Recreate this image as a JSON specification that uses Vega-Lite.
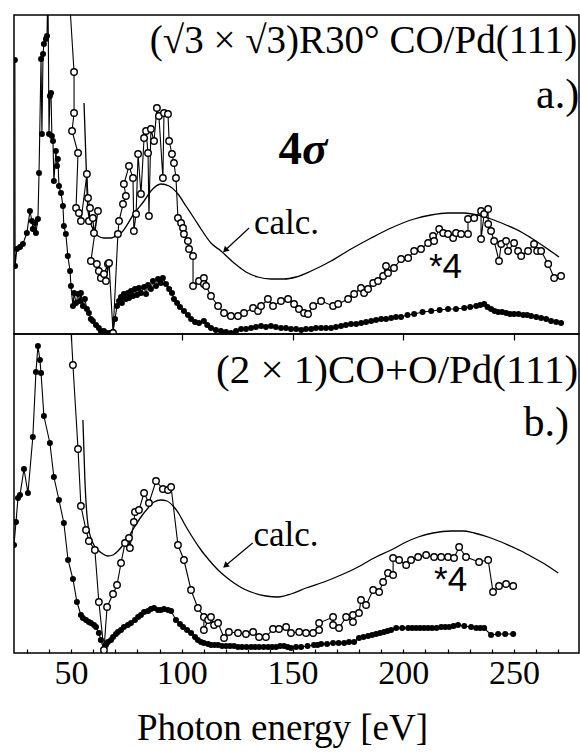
{
"$schema":"https://vega.github.io/schema/vega-lite/v6.json",
"padding":{"left":13,"top":14,"right":2,"bottom":5},
"background":"white",
"config":{"view":{"stroke":"black","strokeWidth":1.5},"font":"Liberation Serif"},
"datasets":{
"aCalc":[{"E":55.9,"I":231},{"E":56.8,"I":173},{"E":57.7,"I":123},{"E":59.9,"I":105},{"E":62.2,"I":98},{"E":64.9,"I":96},{"E":68.1,"I":96},{"E":70.3,"I":98},{"E":72.6,"I":101},{"E":78.4,"I":120},{"E":83.0,"I":133},{"E":86.1,"I":143},{"E":90.6,"I":150},{"E":94.3,"I":148},{"E":98.3,"I":140},{"E":101.9,"I":128},{"E":105.5,"I":116},{"E":108.7,"I":105},{"E":113.2,"I":91},{"E":117.7,"I":83},{"E":123.6,"I":71},{"E":129.0,"I":62},{"E":134.4,"I":57},{"E":140.3,"I":55},{"E":146.2,"I":55},{"E":151.6,"I":57},{"E":158.4,"I":63},{"E":167.4,"I":73},{"E":176.4,"I":85},{"E":185.5,"I":96},{"E":194.5,"I":106},{"E":204.9,"I":115},{"E":212.5,"I":119},{"E":220.2,"I":121},{"E":227.4,"I":121},{"E":235.1,"I":118},{"E":239.6,"I":115},{"E":246.4,"I":109},{"E":253.2,"I":102},{"E":257.7,"I":96},{"E":264.5,"I":86},{"E":270.3,"I":77}],
"aOpen":[{"E":48.65,"I":360},{"E":51.4,"I":262},{"E":51.4,"I":221},{"E":50.5,"I":203},{"E":53.2,"I":181},{"E":52.3,"I":126},{"E":53.6,"I":121},{"E":54.5,"I":113},{"E":57.2,"I":160},{"E":57.7,"I":136},{"E":58.6,"I":126},{"E":58.1,"I":113},{"E":59.9,"I":116},{"E":60.4,"I":101},{"E":62.2,"I":123},{"E":59.0,"I":73},{"E":61.7,"I":70},{"E":62.6,"I":63},{"E":63.5,"I":56},{"E":64.9,"I":60},{"E":66.7,"I":70},{"E":65.8,"I":53},{"E":67.2,"I":71},{"E":69.0,"I":1},{"E":71.2,"I":100},{"E":71.7,"I":113},{"E":73.5,"I":130},{"E":74.8,"I":138},{"E":73.9,"I":150},{"E":76.2,"I":168},{"E":78.0,"I":156},{"E":78.4,"I":103},{"E":79.4,"I":120},{"E":80.3,"I":180},{"E":81.6,"I":140},{"E":83.0,"I":196},{"E":83.9,"I":203},{"E":84.8,"I":181},{"E":85.2,"I":118},{"E":86.1,"I":205},{"E":87.5,"I":193},{"E":88.8,"I":226},{"E":89.7,"I":218},{"E":91.5,"I":156},{"E":92.0,"I":221},{"E":93.8,"I":220},{"E":94.3,"I":193},{"E":95.6,"I":180},{"E":96.5,"I":171},{"E":97.4,"I":156},{"E":98.3,"I":116},{"E":99.7,"I":111},{"E":100.6,"I":106},{"E":101.0,"I":100},{"E":102.8,"I":93},{"E":103.3,"I":85},{"E":105.1,"I":78},{"E":105.1,"I":48},{"E":107.8,"I":53},{"E":110.0,"I":56},{"E":110.0,"I":50},{"E":111.0,"I":48},{"E":113.2,"I":38},{"E":116.4,"I":28},{"E":119.1,"I":21},{"E":122.2,"I":18},{"E":125.4,"I":18},{"E":128.1,"I":21},{"E":132.2,"I":26},{"E":134.4,"I":23},{"E":135.8,"I":28},{"E":138.9,"I":35},{"E":141.2,"I":28},{"E":144.8,"I":33},{"E":148.0,"I":35},{"E":150.7,"I":30},{"E":152.9,"I":25},{"E":155.2,"I":21},{"E":157.0,"I":20},{"E":159.3,"I":28},{"E":162.9,"I":33},{"E":168.3,"I":28},{"E":170.6,"I":30},{"E":175.1,"I":35},{"E":177.8,"I":40},{"E":180.9,"I":46},{"E":182.3,"I":41},{"E":184.1,"I":45},{"E":186.4,"I":51},{"E":188.6,"I":53},{"E":190.9,"I":58},{"E":192.2,"I":68},{"E":193.1,"I":61},{"E":195.8,"I":66},{"E":199.0,"I":75},{"E":202.2,"I":76},{"E":204.9,"I":83},{"E":208.0,"I":85},{"E":211.2,"I":91},{"E":213.4,"I":98},{"E":213.9,"I":93},{"E":216.2,"I":105},{"E":218.0,"I":101},{"E":220.2,"I":100},{"E":222.5,"I":96},{"E":223.8,"I":101},{"E":226.1,"I":100},{"E":229.2,"I":100},{"E":229.2,"I":115},{"E":232.0,"I":116},{"E":235.1,"I":123},{"E":235.1,"I":95},{"E":236.5,"I":120},{"E":238.3,"I":125},{"E":238.3,"I":110},{"E":239.6,"I":103},{"E":241.0,"I":93},{"E":243.2,"I":73},{"E":244.2,"I":90},{"E":246.4,"I":93},{"E":247.3,"I":83},{"E":250.0,"I":91},{"E":251.8,"I":83},{"E":253.2,"I":78},{"E":256.3,"I":83},{"E":259.0,"I":90},{"E":260.4,"I":83},{"E":262.2,"I":83},{"E":265.4,"I":70},{"E":268.1,"I":56},{"E":271.2,"I":58}],
"aFilled":[{"E":24.7,"I":274},{"E":24.8,"I":68},{"E":25.6,"I":85},{"E":27.0,"I":87},{"E":28.3,"I":90},{"E":30.1,"I":101},{"E":31.5,"I":123},{"E":32.4,"I":113},{"E":32.8,"I":105},{"E":33.8,"I":111},{"E":34.2,"I":101},{"E":35.1,"I":115},{"E":35.6,"I":161},{"E":36.5,"I":275},{"E":36.9,"I":200},{"E":37.4,"I":280},{"E":37.8,"I":290},{"E":38.7,"I":295},{"E":39.2,"I":298},{"E":39.6,"I":353},{"E":40.1,"I":200},{"E":40.5,"I":238},{"E":41.0,"I":241},{"E":41.4,"I":198},{"E":41.9,"I":193},{"E":42.3,"I":153},{"E":43.2,"I":183},{"E":43.7,"I":168},{"E":44.1,"I":175},{"E":44.6,"I":148},{"E":45.5,"I":141},{"E":46.4,"I":128},{"E":46.8,"I":108},{"E":47.7,"I":100},{"E":48.6,"I":78},{"E":49.6,"I":63},{"E":50.0,"I":48},{"E":50.9,"I":28},{"E":51.4,"I":41},{"E":52.3,"I":31},{"E":53.2,"I":40},{"E":54.1,"I":33},{"E":54.5,"I":41},{"E":55.4,"I":28},{"E":56.3,"I":35},{"E":57.2,"I":25},{"E":58.1,"I":21},{"E":59.0,"I":15},{"E":59.9,"I":13},{"E":61.3,"I":9},{"E":62.6,"I":6},{"E":63.5,"I":3},{"E":64.9,"I":3},{"E":66.3,"I":1},{"E":67.6,"I":1},{"E":69.0,"I":2},{"E":69.9,"I":15},{"E":70.8,"I":28},{"E":71.7,"I":33},{"E":72.6,"I":37},{"E":73.0,"I":31},{"E":73.9,"I":40},{"E":74.8,"I":35},{"E":75.7,"I":41},{"E":76.2,"I":36},{"E":77.1,"I":43},{"E":78.0,"I":38},{"E":78.9,"I":45},{"E":79.8,"I":39},{"E":80.7,"I":46},{"E":81.6,"I":41},{"E":83.0,"I":47},{"E":83.9,"I":40},{"E":84.8,"I":49},{"E":86.1,"I":45},{"E":87.0,"I":53},{"E":88.4,"I":48},{"E":89.3,"I":55},{"E":90.6,"I":51},{"E":91.5,"I":56},{"E":92.9,"I":50},{"E":94.3,"I":45},{"E":95.6,"I":41},{"E":96.5,"I":35},{"E":97.9,"I":31},{"E":99.2,"I":27},{"E":101.0,"I":23},{"E":102.8,"I":19},{"E":104.2,"I":15},{"E":106.0,"I":12},{"E":107.8,"I":11},{"E":110.0,"I":13},{"E":111.5,"I":9},{"E":113.2,"I":6},{"E":115.4,"I":4},{"E":117.7,"I":3},{"E":120.0,"I":2},{"E":122.2,"I":1},{"E":124.5,"I":3},{"E":126.8,"I":5},{"E":129.0,"I":5},{"E":131.3,"I":6},{"E":133.5,"I":7},{"E":135.8,"I":8},{"E":138.0,"I":7},{"E":140.3,"I":8},{"E":142.5,"I":7},{"E":144.8,"I":6},{"E":147.0,"I":6},{"E":149.3,"I":5},{"E":151.6,"I":5},{"E":153.9,"I":4},{"E":156.1,"I":5},{"E":158.4,"I":5},{"E":160.6,"I":6},{"E":162.9,"I":6},{"E":165.1,"I":6},{"E":167.4,"I":6},{"E":169.6,"I":7},{"E":171.9,"I":8},{"E":174.1,"I":9},{"E":176.4,"I":10},{"E":178.7,"I":10},{"E":181.0,"I":11},{"E":183.2,"I":12},{"E":185.5,"I":13},{"E":187.7,"I":14},{"E":190.0,"I":15},{"E":192.2,"I":15},{"E":194.5,"I":16},{"E":196.7,"I":17},{"E":199.0,"I":17},{"E":201.9,"I":19},{"E":204.9,"I":20},{"E":208.7,"I":22},{"E":212.6,"I":23},{"E":216.4,"I":24},{"E":220.2,"I":25},{"E":223.8,"I":25},{"E":227.5,"I":26},{"E":230.2,"I":27},{"E":232.9,"I":28},{"E":234.7,"I":29},{"E":236.5,"I":30},{"E":238.0,"I":27},{"E":239.6,"I":25},{"E":241.2,"I":23},{"E":242.8,"I":22},{"E":244.6,"I":22},{"E":246.4,"I":21},{"E":248.2,"I":20},{"E":250.0,"I":20},{"E":252.0,"I":20},{"E":254.1,"I":19},{"E":255.9,"I":19},{"E":257.7,"I":18},{"E":260.0,"I":17},{"E":262.2,"I":16},{"E":264.5,"I":15},{"E":266.7,"I":13},{"E":269.0,"I":12},{"E":271.2,"I":11}],
"bCalc":[{"E":55.4,"I":233},{"E":56.3,"I":173},{"E":57.7,"I":128},{"E":59.9,"I":110},{"E":62.2,"I":103},{"E":64.5,"I":99},{"E":66.7,"I":97},{"E":69.0,"I":98},{"E":71.2,"I":102},{"E":73.5,"I":108},{"E":75.7,"I":115},{"E":78.4,"I":125},{"E":81.6,"I":136},{"E":84.8,"I":145},{"E":87.5,"I":151},{"E":90.6,"I":153},{"E":93.3,"I":152},{"E":96.1,"I":147},{"E":98.8,"I":139},{"E":101.0,"I":130},{"E":104.2,"I":118},{"E":108.7,"I":103},{"E":112.3,"I":93},{"E":116.4,"I":83},{"E":120.0,"I":76},{"E":123.6,"I":70},{"E":128.1,"I":64},{"E":132.6,"I":60},{"E":138.0,"I":57},{"E":143.5,"I":56},{"E":149.3,"I":59},{"E":156.1,"I":65},{"E":164.2,"I":71},{"E":171.9,"I":78},{"E":179.6,"I":86},{"E":186.8,"I":95},{"E":194.5,"I":103},{"E":201.3,"I":111},{"E":206.7,"I":116},{"E":213.4,"I":120},{"E":221.6,"I":122},{"E":227.0,"I":122},{"E":232.0,"I":120},{"E":239.6,"I":115},{"E":247.3,"I":108},{"E":253.2,"I":102},{"E":259.0,"I":95},{"E":264.5,"I":88},{"E":269.9,"I":80}],
"bOpen":[{"E":49.1,"I":363},{"E":50.9,"I":288},{"E":53.2,"I":204},{"E":54.5,"I":147},{"E":56.8,"I":123},{"E":58.1,"I":112},{"E":60.8,"I":103},{"E":62.6,"I":51},{"E":64.9,"I":3},{"E":66.3,"I":46},{"E":69.0,"I":59},{"E":70.8,"I":68},{"E":72.6,"I":90},{"E":74.4,"I":110},{"E":76.2,"I":115},{"E":76.6,"I":105},{"E":78.4,"I":131},{"E":78.9,"I":141},{"E":80.7,"I":143},{"E":83.0,"I":160},{"E":85.2,"I":150},{"E":88.4,"I":172},{"E":91.5,"I":164},{"E":93.8,"I":163},{"E":95.2,"I":166},{"E":98.3,"I":108},{"E":101.0,"I":93},{"E":104.2,"I":63},{"E":107.3,"I":45},{"E":110.0,"I":36},{"E":110.0,"I":23},{"E":111.9,"I":33},{"E":113.2,"I":36},{"E":114.6,"I":28},{"E":116.4,"I":30},{"E":119.1,"I":15},{"E":121.3,"I":21},{"E":125.4,"I":20},{"E":129.0,"I":19},{"E":132.2,"I":21},{"E":134.9,"I":16},{"E":138.0,"I":16},{"E":141.2,"I":24},{"E":143.9,"I":24},{"E":147.1,"I":26},{"E":149.3,"I":20},{"E":153.0,"I":21},{"E":156.1,"I":20},{"E":159.3,"I":20},{"E":162.0,"I":23},{"E":162.0,"I":30},{"E":168.3,"I":36},{"E":168.3,"I":28},{"E":171.0,"I":25},{"E":174.2,"I":36},{"E":177.3,"I":31},{"E":177.3,"I":38},{"E":180.0,"I":40},{"E":180.9,"I":53},{"E":183.2,"I":48},{"E":186.4,"I":63},{"E":189.1,"I":61},{"E":190.9,"I":71},{"E":193.1,"I":80},{"E":195.4,"I":78},{"E":195.4,"I":95},{"E":198.1,"I":93},{"E":201.3,"I":88},{"E":203.5,"I":93},{"E":206.7,"I":96},{"E":210.3,"I":98},{"E":213.9,"I":96},{"E":217.1,"I":96},{"E":220.2,"I":96},{"E":222.9,"I":95},{"E":225.2,"I":106},{"E":228.3,"I":96},{"E":234.2,"I":91},{"E":238.3,"I":93},{"E":240.5,"I":61},{"E":243.2,"I":67},{"E":246.4,"I":69},{"E":249.6,"I":67}],
"bFilled":[{"E":24.3,"I":108},{"E":25.2,"I":131},{"E":26.1,"I":155},{"E":27.0,"I":158},{"E":28.8,"I":184},{"E":30.6,"I":160},{"E":32.8,"I":216},{"E":34.2,"I":281},{"E":35.1,"I":307},{"E":36.0,"I":293},{"E":36.5,"I":280},{"E":37.8,"I":237},{"E":40.5,"I":210},{"E":42.3,"I":176},{"E":44.6,"I":153},{"E":46.8,"I":130},{"E":48.7,"I":93},{"E":50.9,"I":74},{"E":52.7,"I":51},{"E":54.5,"I":38},{"E":55.4,"I":35},{"E":56.8,"I":33},{"E":58.1,"I":31},{"E":59.0,"I":30},{"E":60.4,"I":28},{"E":61.3,"I":26},{"E":62.6,"I":20},{"E":63.5,"I":13},{"E":64.9,"I":3},{"E":65.8,"I":8},{"E":66.7,"I":11},{"E":68.1,"I":13},{"E":69.0,"I":16},{"E":70.3,"I":19},{"E":71.2,"I":21},{"E":72.6,"I":23},{"E":73.9,"I":26},{"E":75.7,"I":28},{"E":77.1,"I":30},{"E":78.9,"I":33},{"E":80.3,"I":36},{"E":81.6,"I":38},{"E":83.0,"I":41},{"E":84.8,"I":42},{"E":86.1,"I":44},{"E":87.5,"I":45},{"E":89.3,"I":43},{"E":90.6,"I":43},{"E":92.0,"I":44},{"E":93.8,"I":43},{"E":95.2,"I":42},{"E":97.4,"I":33},{"E":99.2,"I":29},{"E":100.6,"I":26},{"E":102.4,"I":23},{"E":104.2,"I":20},{"E":106.0,"I":16},{"E":107.3,"I":13},{"E":108.7,"I":11},{"E":110.0,"I":10},{"E":111.9,"I":9},{"E":113.2,"I":8},{"E":114.8,"I":8},{"E":116.4,"I":8},{"E":118.2,"I":7},{"E":120.0,"I":7},{"E":121.8,"I":7},{"E":123.6,"I":7},{"E":125.4,"I":6},{"E":127.2,"I":6},{"E":129.2,"I":6},{"E":131.3,"I":6},{"E":133.1,"I":6},{"E":134.9,"I":6},{"E":137.0,"I":6},{"E":139.0,"I":6},{"E":140.8,"I":6},{"E":142.6,"I":6},{"E":144.4,"I":7},{"E":146.2,"I":7},{"E":147.8,"I":6},{"E":149.3,"I":5},{"E":151.6,"I":6},{"E":153.9,"I":6},{"E":156.8,"I":7},{"E":159.7,"I":8},{"E":161.3,"I":8},{"E":162.9,"I":9},{"E":165.6,"I":9},{"E":168.3,"I":10},{"E":170.8,"I":10},{"E":173.3,"I":10},{"E":175.5,"I":11},{"E":177.8,"I":11},{"E":180.0,"I":15},{"E":182.0,"I":16},{"E":184.1,"I":17},{"E":185.9,"I":18},{"E":187.7,"I":19},{"E":189.5,"I":20},{"E":191.3,"I":21},{"E":192.9,"I":22},{"E":194.5,"I":23},{"E":196.8,"I":25},{"E":199.5,"I":25},{"E":202.2,"I":25},{"E":204.0,"I":25},{"E":205.8,"I":25},{"E":207.6,"I":25},{"E":209.4,"I":25},{"E":211.2,"I":25},{"E":213.0,"I":25},{"E":215.0,"I":25},{"E":217.1,"I":26},{"E":218.9,"I":26},{"E":220.7,"I":26},{"E":222.7,"I":27},{"E":224.7,"I":28},{"E":227.5,"I":27},{"E":230.6,"I":26},{"E":232.9,"I":25},{"E":234.7,"I":25},{"E":236.5,"I":25},{"E":239.6,"I":18},{"E":242.8,"I":19},{"E":246.0,"I":19},{"E":249.6,"I":19}]
},
"bounds":"flush",
"spacing":0,
"vconcat":[
{"width":565,"height":319,
"encoding":{"x":{"field":"E","type":"quantitative","scale":{"domain":[24.3,279.3],"nice":false,"zero":false},"axis":{"values":[50,100,150,200,250],"labels":false,"tickSize":6,"tickColor":"black","tickWidth":1.2,"domain":false,"grid":false,"title":null}},
"y":{"field":"I","type":"quantitative","scale":{"domain":[0,319],"nice":false,"zero":false},"axis":null}},
"layer":[
{"data":{"name":"aCalc"},"mark":{"type":"line","color":"black","strokeWidth":1.3,"interpolate":"monotone","clip":true}},
{"data":{"name":"aFilled"},"mark":{"type":"line","color":"black","strokeWidth":1.1,"clip":true},"encoding":{"order":{"value":null}}},
{"data":{"name":"aFilled"},"mark":{"type":"point","shape":"circle","filled":true,"color":"black","opacity":1,"size":36,"clip":true}},
{"data":{"name":"aOpen"},"mark":{"type":"line","color":"black","strokeWidth":1.1,"clip":true},"encoding":{"order":{"value":null}}},
{"data":{"name":"aOpen"},"mark":{"type":"point","shape":"circle","filled":true,"fill":"white","stroke":"black","strokeWidth":1.4,"opacity":1,"size":42,"clip":true}},
{"data":{"values":[{"E":130.4,"I":106,"E2":119.6,"I2":83.7}]},"mark":{"type":"rule","color":"black","strokeWidth":1.2},"encoding":{"x2":{"field":"E2"},"y2":{"field":"I2"}}},
{"data":{"values":[{"E":119.6,"I":83.7}]},"mark":{"type":"point","shape":"triangle-up","filled":true,"color":"black","opacity":1,"size":45,"angle":226}},
{"data":{"values":[{"E":278.5,"I":281,"t":"(√3 × √3)R30° CO/Pd(111)"}]},"mark":{"type":"text","font":"Liberation Serif","fontSize":39,"align":"right","baseline":"alphabetic","color":"black"},"encoding":{"text":{"field":"t"}}},
{"data":{"values":[{"E":279.4,"I":226,"t":"a.)"}]},"mark":{"type":"text","font":"Liberation Serif","fontSize":42,"align":"right","baseline":"alphabetic","color":"black"},"encoding":{"text":{"field":"t"}}},
{"data":{"values":[{"E":154.3,"I":170,"t":"4"}]},"mark":{"type":"text","font":"Liberation Serif","fontSize":47,"fontWeight":"bold","align":"right","baseline":"alphabetic","color":"black"},"encoding":{"text":{"field":"t"}}},
{"data":{"values":[{"E":154.3,"I":170,"t":"σ"}]},"mark":{"type":"text","font":"Liberation Serif","fontSize":47,"fontWeight":"bold","fontStyle":"italic","align":"left","baseline":"alphabetic","color":"black"},"encoding":{"text":{"field":"t"}}},
{"data":{"values":[{"E":132.6,"I":100,"t":"calc."}]},"mark":{"type":"text","font":"Liberation Serif","fontSize":35,"align":"left","baseline":"alphabetic","color":"black"},"encoding":{"text":{"field":"t"}}},
{"data":{"values":[{"E":211.6,"I":56,"t":"*4"}]},"mark":{"type":"text","font":"Liberation Sans","fontSize":35,"align":"left","baseline":"alphabetic","color":"black"},"encoding":{"text":{"field":"t"}}}
]},
{"width":565,"height":319,
"encoding":{"x":{"field":"E","type":"quantitative","scale":{"domain":[24.3,279.3],"nice":false,"zero":false},"axis":{"values":[30,40,50,60,70,80,90,100,110,120,130,140,150,160,170,180,190,200,210,220,230,240,250,260,270],"labelExpr":"datum.value % 50 === 0 ? datum.label : ''","labelOverlap":false,"labelFlush":false,"tickSize":-4,"tickColor":"black","tickWidth":1.2,"domain":false,"grid":false,"labelFont":"Liberation Serif","labelFontSize":34,"labelColor":"black","labelBaseline":"alphabetic","labelPadding":34,"title":"Photon energy [eV]","titleFont":"Liberation Serif","titleFontSize":37,"titleFontWeight":"normal","titleColor":"black","titleBaseline":"alphabetic","titleAlign":"center","titleX":268,"titleY":86}},
"y":{"field":"I","type":"quantitative","scale":{"domain":[0,319],"nice":false,"zero":false},"axis":null}},
"layer":[
{"data":{"name":"bCalc"},"mark":{"type":"line","color":"black","strokeWidth":1.3,"interpolate":"monotone","clip":true}},
{"data":{"name":"bFilled"},"mark":{"type":"line","color":"black","strokeWidth":1.1,"clip":true},"encoding":{"order":{"value":null}}},
{"data":{"name":"bFilled"},"mark":{"type":"point","shape":"circle","filled":true,"color":"black","opacity":1,"size":36,"clip":true}},
{"data":{"name":"bOpen"},"mark":{"type":"line","color":"black","strokeWidth":1.1,"clip":true},"encoding":{"order":{"value":null}}},
{"data":{"name":"bOpen"},"mark":{"type":"point","shape":"circle","filled":true,"fill":"white","stroke":"black","strokeWidth":1.4,"opacity":1,"size":42,"clip":true}},
{"data":{"values":[{"E":132.0,"I":110,"E2":119.7,"I2":87.2}]},"mark":{"type":"rule","color":"black","strokeWidth":1.2},"encoding":{"x2":{"field":"E2"},"y2":{"field":"I2"}}},
{"data":{"values":[{"E":119.7,"I":87.2}]},"mark":{"type":"point","shape":"triangle-up","filled":true,"color":"black","opacity":1,"size":45,"angle":230}},
{"data":{"values":[{"E":278.9,"I":270,"t":"(2 × 1)CO+O/Pd(111)"}]},"mark":{"type":"text","font":"Liberation Serif","fontSize":41,"align":"right","baseline":"alphabetic","color":"black"},"encoding":{"text":{"field":"t"}}},
{"data":{"values":[{"E":274.8,"I":217,"t":"b.)"}]},"mark":{"type":"text","font":"Liberation Serif","fontSize":42,"align":"right","baseline":"alphabetic","color":"black"},"encoding":{"text":{"field":"t"}}},
{"data":{"values":[{"E":132.4,"I":107,"t":"calc."}]},"mark":{"type":"text","font":"Liberation Serif","fontSize":35,"align":"left","baseline":"alphabetic","color":"black"},"encoding":{"text":{"field":"t"}}},
{"data":{"values":[{"E":213.9,"I":62,"t":"*4"}]},"mark":{"type":"text","font":"Liberation Sans","fontSize":35,"align":"left","baseline":"alphabetic","color":"black"},"encoding":{"text":{"field":"t"}}}
]}
]
}
